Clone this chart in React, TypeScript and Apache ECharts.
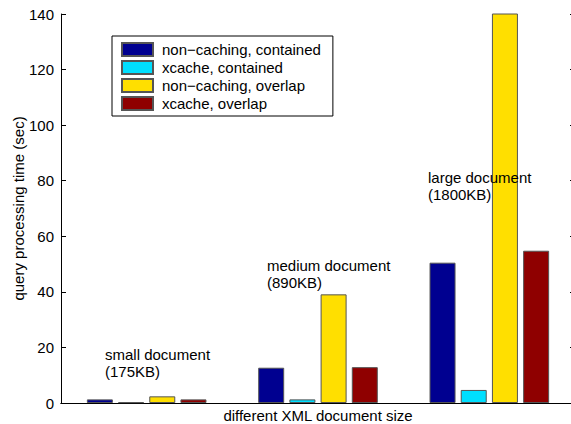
import React, { useEffect, useRef } from "react";
import * as echarts from "echarts";

const categories = ["small document", "medium document", "large document"];
const annotationLabels = ["small document\n(175KB)", "medium document\n(890KB)", "large document\n(1800KB)"];
const seriesNames = ["non\u2212caching, contained", "xcache, contained", "non\u2212caching, overlap", "xcache, overlap"];
const nonCachingContained = [1.3, 12.7, 50.5];
const xcacheContained = [0.3, 1.3, 4.7];
const nonCachingOverlap = [2.4, 39.1, 150];
const xcacheOverlap = [1.3, 12.9, 54.8];
const yTicks = [0, 20, 40, 60, 80, 100, 120, 140];

const colors = ["#000090", "#00DFFF", "#FFDF00", "#8F0000"];
const FONT = "'Liberation Sans', Arial, Helvetica, sans-serif";

export default function App() {
  const ref = useRef<HTMLDivElement>(null);
  useEffect(() => {
    if (!ref.current) return;
    const chart = echarts.init(ref.current, null, { renderer: "svg" });
    const values = [nonCachingContained, xcacheContained, nonCachingOverlap, xcacheOverlap];
    const yMin = yTicks[0];
    const yMax = yTicks[yTicks.length - 1];
    const yInterval = yTicks[1] - yTicks[0];
    const annPos = [
      [105, 346],
      [267, 257],
      [428, 169],
    ];
    chart.setOption({
      animation: false,
      textStyle: { fontFamily: FONT },
      grid: { left: 61, top: 14, bottom: 21, width: 514, containLabel: false, outerBoundsMode: "none" },
      legend: {
        orient: "vertical",
        left: 112,
        top: 36,
        padding: [6, 12, 5, 9],
        icon: "rect",
        itemWidth: 31,
        itemHeight: 13,
        itemGap: 3,
        borderColor: "#000",
        borderWidth: 1,
        backgroundColor: "#fff",
        selectedMode: false,
        textStyle: { fontSize: 15, color: "#000", fontFamily: FONT, padding: [0, 0, 0, 4] },
        data: seriesNames,
      },
      xAxis: [
        {
          type: "category",
          data: categories,
          position: "bottom",
          axisLine: { show: true, lineStyle: { color: "#000", width: 1 } },
          axisTick: { show: false },
          axisLabel: { show: false },
          name: "different XML document size",
          nameLocation: "middle",
          nameGap: 5,
          nameMoveOverlap: false,
          nameTextStyle: { fontSize: 15, color: "#000", fontFamily: FONT },
        },
        {
          type: "category",
          data: categories,
          position: "top",
          axisLine: { show: true, lineStyle: { color: "#000", width: 1 } },
          axisTick: { show: false },
          axisLabel: { show: false },
        },
      ],
      yAxis: [
        {
          type: "value",
          min: yMin,
          max: yMax,
          interval: yInterval,
          position: "left",
          axisLine: { show: true, lineStyle: { color: "#000", width: 1 } },
          axisTick: { show: true, inside: true, length: 5, lineStyle: { color: "#000" } },
          axisLabel: { fontSize: 15, color: "#000", margin: 7, fontFamily: FONT },
          splitLine: { show: false },
          name: "query processing time (sec)",
          nameLocation: "middle",
          nameGap: 35,
          nameMoveOverlap: false,
          nameTextStyle: { fontSize: 15, color: "#000", fontFamily: FONT },
        },
        {
          type: "value",
          min: yMin,
          max: yMax,
          interval: yInterval,
          position: "right",
          axisLine: { show: true, lineStyle: { color: "#000", width: 1 } },
          axisTick: { show: true, inside: true, length: 5, lineStyle: { color: "#000" } },
          axisLabel: { show: false },
          splitLine: { show: false },
        },
      ],
      series: seriesNames.map((name, i) => ({
        name,
        type: "bar",
        xAxisIndex: 0,
        yAxisIndex: 0,
        data: values[i],
        barWidth: 26,
        barGap: "20%",
        clip: true,
        itemStyle: { color: colors[i], borderColor: "#555", borderWidth: 1 },
      })),
      graphic: annotationLabels.map((t, i) => ({
        type: "text",
        x: annPos[i][0],
        y: annPos[i][1],
        z: 100,
        style: {
          text: t,
          fontSize: 15,
          lineHeight: 17,
          fontFamily: FONT,
          fill: "#000",
          textVerticalAlign: "top",
          verticalAlign: "top",
        },
      })),
    });
    return () => chart.dispose();
  }, []);
  return <div ref={ref} style={{ width: 571, height: 424, position: "absolute", left: 0, top: 0, background: "#fff" }} />;
}
